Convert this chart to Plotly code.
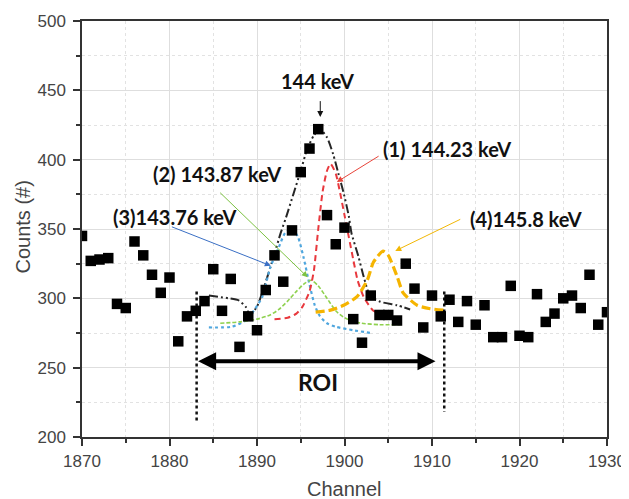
import plotly.graph_objects as go

# ---------------- data ----------------
channels = list(range(1870, 1931))
counts = [345, 327, 328, 329, 296, 293, 341, 331, 317, 304,
          315, 269, 287, 291, 298, 321, 291, 314, 265, 287,
          277, 306, 331, 312, 349, 391, 408, 422, 360, 339,
          351, 285, 268, 302, 288, 288, 284, 325, 307, 279,
          302, 287, 299, 283, 298, 281, 295, 272, 272, 309,
          273, 272, 303, 283, 289, 300, 302, 293, 317, 281,
          290]

# fitted components
red_x = [1892, 1893.5, 1894.5, 1895.2, 1896, 1896.5, 1897, 1897.5, 1898, 1898.4,
         1899, 1899.5, 1900, 1900.5, 1901, 1901.5, 1902.2, 1903.3, 1904.5, 1906.4]
red_y = [285, 286, 289, 294, 305, 320, 350, 377, 392, 397,
         390, 376, 360, 344, 328, 313, 301, 291, 288, 285]

green_x = [1885.8, 1888, 1890, 1891.5, 1892.5, 1893.5, 1894.5, 1895.5, 1896.2, 1897,
           1898, 1899, 1900, 1901, 1902, 1904, 1906.4]
green_y = [282, 283, 285, 288, 292, 298, 305, 311, 313, 309,
           300, 291, 286, 283.5, 282, 281, 281]

blue_x = [1884.5, 1887.1, 1888.7, 1889.4, 1890.6, 1891.5, 1892.5, 1893.2, 1894, 1894.7,
          1895.3, 1896, 1896.6, 1897.2, 1898, 1899, 1901, 1903]
blue_y = [279, 279.5, 284, 289, 301, 322, 337, 347, 350.5, 344,
          330, 310, 295, 287, 282, 279.5, 277, 275]

orange_x = [1896.7, 1898.4, 1899.9, 1901.4, 1902.6, 1903.3, 1904.4, 1905, 1906, 1906.7,
            1908.3, 1909.8, 1911.3]
orange_y = [290, 291.5, 295, 301, 313, 326, 334, 331, 316, 304,
            295, 292.5, 291.5]

sum_x = [1884.5, 1886.8, 1887.9, 1888.7, 1889.2, 1890, 1890.9, 1891.9, 1892.7, 1893.3,
         1894.2, 1895, 1895.7, 1896.5, 1897.2, 1898, 1898.7, 1899.3, 1899.9, 1900.5,
         1900.8, 1901.6, 1902.2, 1902.9, 1904.1, 1906, 1907.5]
sum_y = [302, 300, 298.5, 294, 288, 294, 310, 330, 347, 358,
         376, 392, 407, 417.5, 422, 416, 404, 390, 376, 359,
         347, 330, 315.5, 302, 297.5, 295, 292]

# ROI
roi_start, roi_end = 1883.1, 1911.4
roi_line_top = 305
roi_line_bottom = [211, 218]
roi_arrow_y = 254.6
roi_arrow_end = 1910.4
roi_label_pos = (1897.0, 239.7)

# labels: text, text position, arrow tail, arrow head, colour
peak_labels = [
    ("144 keV", (1896.94, 456.7), (1897.23, 443.3), (1897.23, 430.8), "#111111"),
    ("(1) 144.23 keV", (1911.68, 407.9), (1904.07, 403.2), (1899.13, 383.9), "#e8443a"),
    ("(2) 143.87 keV", (1885.43, 389.5), (1885.62, 377.2), (1895.8, 315.2), "#7cc242"),
    ("(3)143.76 keV", (1880.52, 358.5), (1880.1, 352.0), (1891.58, 323.5), "#3a6fc4"),
    ("(4)145.8 keV", (1920.72, 357.4), (1913.4, 357.5), (1905.8, 334.2), "#f2b705"),
]

x_ticks = [1870, 1880, 1890, 1900, 1910, 1920, 1930]
y_ticks = [200, 250, 300, 350, 400, 450, 500]

# ---------------- figure ----------------
fig = go.Figure()

fig.add_trace(go.Scatter(x=sum_x, y=sum_y, mode="lines",
                         line=dict(color="#262626", width=2, dash="9px,3px,2px,3px,2px,3px",
                                   shape="spline", smoothing=0.6), hoverinfo="skip"))
fig.add_trace(go.Scatter(x=blue_x, y=blue_y, mode="lines",
                         line=dict(color="#4fa6de", width=2.2, dash="dot", shape="spline", smoothing=0.6),
                         hoverinfo="skip"))
fig.add_trace(go.Scatter(x=green_x, y=green_y, mode="lines",
                         line=dict(color="#8fd14f", width=1.6, dash="4px,2px", shape="spline", smoothing=0.6),
                         hoverinfo="skip"))
fig.add_trace(go.Scatter(x=red_x, y=red_y, mode="lines",
                         line=dict(color="#e8383d", width=2, dash="6px,4px", shape="spline", smoothing=0.6),
                         hoverinfo="skip"))
fig.add_trace(go.Scatter(x=orange_x, y=orange_y, mode="lines",
                         line=dict(color="#f5b400", width=3.2, dash="9px,4px", shape="spline", smoothing=0.6),
                         hoverinfo="skip"))

# ROI dotted lines
for xv, yb in zip([roi_start, roi_end], roi_line_bottom):
    fig.add_trace(go.Scatter(x=[xv, xv], y=[roi_line_top, yb], mode="lines",
                             line=dict(color="#111111", width=2.5, dash="dot"), hoverinfo="skip"))

fig.add_trace(go.Scatter(x=channels, y=counts, mode="markers",
                         marker=dict(symbol="square", size=10.5, color="#000000"),
                         hoverinfo="skip"))

annotations = []
label_font = dict(family="Lato, Open Sans, sans-serif", size=20, color="#111111")
for text, (tx, ty), (ax, ay), (hx, hy), col in peak_labels:
    annotations.append(dict(x=tx, y=ty, xref="x", yref="y", text="<b>%s</b>" % text,
                            showarrow=False, font=label_font))
    annotations.append(dict(x=hx, y=hy, ax=ax, ay=ay, xref="x", yref="y", axref="x", ayref="y",
                            text="", showarrow=True, arrowhead=2, arrowsize=1.2,
                            arrowwidth=1, arrowcolor=col, standoff=0))

# ROI double arrow
annotations.append(dict(x=roi_arrow_end, y=roi_arrow_y, ax=roi_start, ay=roi_arrow_y,
                        xref="x", yref="y", axref="x", ayref="y", text="", showarrow=True,
                        arrowhead=2, arrowside="end+start", arrowsize=0.9, arrowwidth=4,
                        arrowcolor="#000000", standoff=0, startstandoff=0))
annotations.append(dict(x=roi_label_pos[0], y=roi_label_pos[1], xref="x", yref="y",
                        text="<b>ROI</b>", showarrow=False,
                        font=dict(family="Lato, Open Sans, sans-serif", size=23, color="#111111")))

# axis titles
annotations.append(dict(x=0.5, y=-0.126, xref="paper", yref="paper", text="Channel",
                        showarrow=False, yanchor="middle",
                        font=dict(family="Liberation Sans, Arial, sans-serif", size=20, color="#444444")))
annotations.append(dict(x=-0.112, y=0.504, xref="paper", yref="paper", text="Counts (#)",
                        showarrow=False, textangle=-90, xanchor="center", yanchor="middle",
                        font=dict(family="Liberation Sans, Arial, sans-serif", size=20, color="#444444")))

axis_common = dict(showline=True, linecolor="#333333", linewidth=1.5, mirror=True,
                   ticks="outside", ticklen=7, tickwidth=1.5, tickcolor="#333333",
                   showgrid=True, gridcolor="#dedede", gridwidth=1, zeroline=False,
                   automargin=False,
                   tickfont=dict(family="Liberation Sans, Arial, sans-serif", size=17, color="#444444"))

# page body has an 8px margin: offset the figure so the plot lands where the reference's does
fig.update_layout(
    width=621, height=491, autosize=False,
    margin=dict(l=73.5, r=22, t=12.7, b=62.3),
    paper_bgcolor="white", plot_bgcolor="white",
    showlegend=False,
    annotations=annotations,
    xaxis=dict(range=[1870, 1930], tickvals=x_ticks, ticklabelstandoff=1, **axis_common,
               minor=dict(dtick=5, tick0=1870, ticks="outside", ticklen=4, tickcolor="#333333",
                          showgrid=True, griddash="dot", gridcolor="#e2e2e2")),
    yaxis=dict(range=[200, 500], tickvals=y_ticks, ticklabelstandoff=4, **axis_common,
               minor=dict(dtick=25, tick0=200, ticks="outside", ticklen=4, tickcolor="#333333",
                          showgrid=True, griddash="dot", gridcolor="#e2e2e2")),
)

fig.write_html("out.html")
